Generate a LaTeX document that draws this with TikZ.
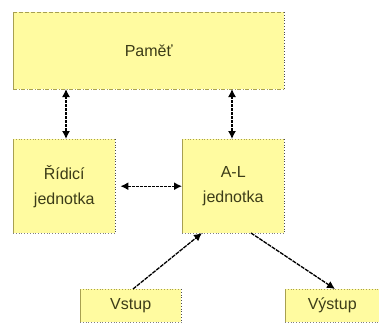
\documentclass[tikz,border=0pt]{standalone}
\usepackage{fontspec}
\setmainfont{Liberation Sans}
\usetikzlibrary{arrows.meta}
\definecolor{boxfill}{HTML}{FFFBA0}
\definecolor{boxedge}{HTML}{A8A050}
\definecolor{txt}{HTML}{3C3C18}
\tikzset{
  unit/.style={draw=none, fill=boxfill, inner sep=0pt, text=txt, align=center,
     font=\fontsize{16}{25}\selectfont},
  link/.style={draw=black, line width=1.3pt, dash pattern=on 3pt off 1pt,
     {Latex[length=8pt,width=8pt]}-{Latex[length=8pt,width=8pt]}},
  oneway/.style={draw=black, line width=1.3pt, dash pattern=on 4pt off 1pt,
     -{Latex[length=8pt,width=8pt]}},
  edgeL/.style={draw=boxedge, line width=0.8pt},
  edgeT/.style={draw=boxedge, line width=0.8pt, dotted},
  edgeR/.style={draw=black!70, line width=0.8pt, dotted},
  edgeB/.style={draw=black!50, line width=0.8pt, dotted},
}
\newcommand{\unitbox}[5]{%
  \node[unit, minimum width=#3pt, minimum height=#4pt, anchor=north west] (#1) at (#2) {#5};
  \draw[edgeL] (#1.south west) -- (#1.north west);
  \draw[edgeT] (#1.north west) -- (#1.north east);
  \draw[edgeR] (#1.north east) -- (#1.south east);
  \draw[edgeB] (#1.south west) -- (#1.south east);
}
\begin{document}
\begin{tikzpicture}[x=1pt,y=-1pt]
\useasboundingbox (0,0) rectangle (379,322);
\node[unit, minimum width=271pt, minimum height=77pt, anchor=north west] (mem) at (13,12) {Paměť};
\draw[edgeL] (mem.south west) -- (mem.north west);
\draw[draw=boxedge, line width=1pt, dash pattern=on 4pt off 2pt] (mem.north west) -- (mem.north east);
\draw[edgeR] (mem.north east) -- (mem.south east);
\draw[draw=boxedge, line width=1pt, dash pattern=on 4pt off 1.5pt on 1pt off 1.5pt] (mem.south west) -- (mem.south east);
\unitbox{ctl}{13,139}{102}{94}{Řídicí\\jednotka}
\unitbox{alu}{182,139}{102}{94}{A-L\\jednotka}
\unitbox{inp}{80,289}{101}{33}{Vstup}
\unitbox{out}{285,289}{94}{33}{Výstup}
\coordinate (m1) at (66,89);
\coordinate (m2) at (232,89);
\draw[link] (m1) -- (m1 |- ctl.north);
\draw[link] (m2) -- (m2 |- alu.north);
\draw[link] ([xshift=5pt]ctl.east) -- (alu.west);
\coordinate (i1) at (133,289);
\coordinate (a1) at (202,233);
\coordinate (a2) at (251,233);
\coordinate (o1) at (335,289);
\draw[oneway] (i1) -- (a1);
\draw[oneway] (a2) -- (o1);
\end{tikzpicture}
\end{document}
